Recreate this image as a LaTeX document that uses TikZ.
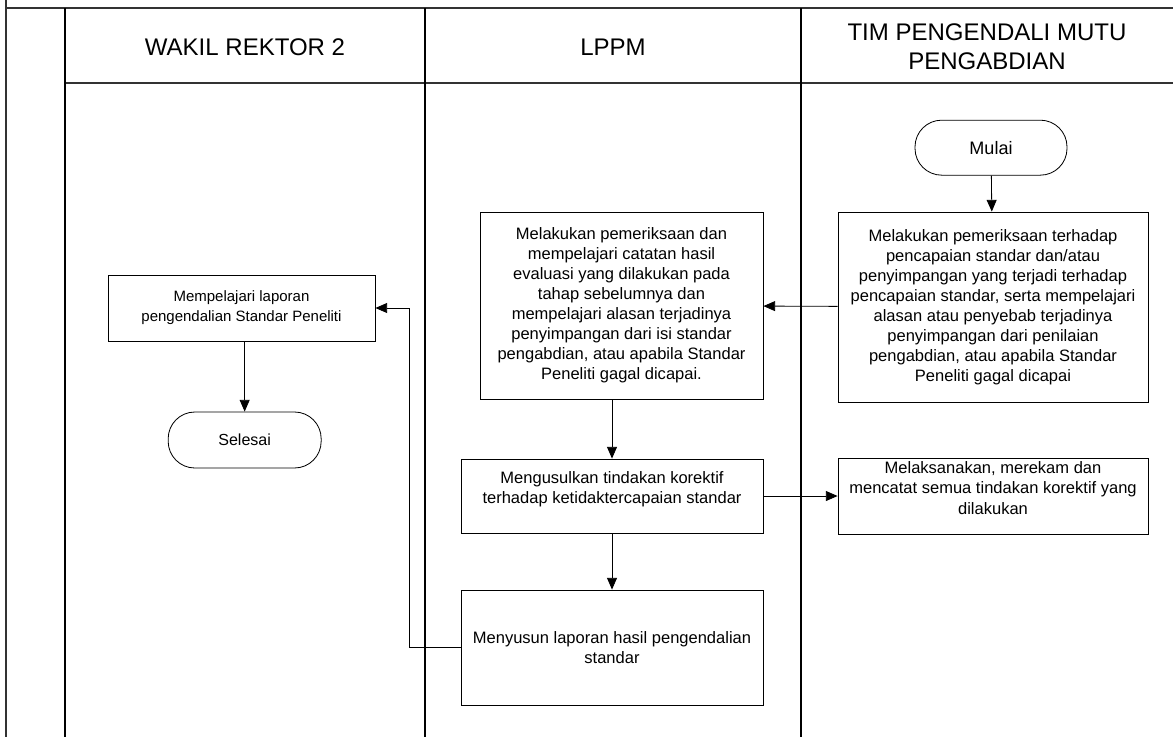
\documentclass[tikz,border=0pt]{standalone}
\usepackage{fontspec}
\setmainfont{Liberation Sans}
\usetikzlibrary{arrows.meta, positioning}
\definecolor{laneline}{RGB}{50, 50, 50}
% extra depth under the last line, lifts the text inside a tall box
\newcommand{\textlift}{\rule[-13.7pt]{0pt}{13.7pt}}

\begin{document}
\begin{tikzpicture}[
    proc/.style={draw, rectangle, align=center, line width=0.7pt, font=\fontsize{14.1}{17.1}\selectfont},
    term/.style={draw, rectangle, rounded corners=0.8cm, align=center, line width=0.7pt, font=\fontsize{14.1}{17.1}\selectfont},
    lanehead/.style={align=center, font=\fontsize{20.5}{24.75}\selectfont},
    arr/.style={-{Triangle[length=10pt, width=8.5pt]}, line width=0.7pt}
]
    \useasboundingbox (0,0) rectangle (35.19,-22.11);

    % Swimlane frame
    \draw[laneline, line width=1.2pt] (0.18,0) -- (0.18,-22.11);
    \draw[laneline, line width=1.4pt] (0.18,-0.24) -- (35.19,-0.24);
    \draw[laneline, line width=1pt] (1.95,-2.49) -- (35.19,-2.49);
    \draw[line width=1.2pt] (1.95,-0.24) -- (1.95,-22.11);
    \draw[line width=1.2pt] (12.75,-0.24) -- (12.75,-22.11);
    \draw[line width=1.2pt] (24.03,-0.24) -- (24.03,-22.11);

    % Lane titles
    \node[lanehead] (wr) at (7.35,-1.41) {WAKIL REKTOR 2};
    \node[lanehead] (lppm) at (18.39,-1.41) {LPPM};
    \node[lanehead] (tpm) at (29.61,-1.41) {TIM PENGENDALI MUTU\\PENGABDIAN};

    % Tim Pengendali Mutu lane
    \node[term, minimum width=4.56cm, minimum height=1.65cm, font=\fontsize{15.4}{17.1}\selectfont] (mulai) at (29.73,-4.43) {Mulai};
    \node[proc, minimum width=9.3cm, minimum height=5.7cm] (periksa) at (29.79,-9.21)
        {Melakukan pemeriksaan terhadap\\pencapaian standar dan/atau\\penyimpangan yang terjadi terhadap\\pencapaian standar, serta mempelajari\\alasan atau penyebab terjadinya\\penyimpangan dari penilaian\\pengabdian, atau apabila Standar\\Peneliti gagal dicapai};
    \node[proc, minimum width=9.3cm, minimum height=2.22cm] (catat) at (29.79,-14.88)
        {Melaksanakan, merekam dan\\mencatat semua tindakan korektif yang\\dilakukan\textlift};

    % LPPM lane
    \node[proc, minimum width=8.49cm, minimum height=5.61cm] (pelajari) at (18.645,-9.165)
        {Melakukan pemeriksaan dan\\mempelajari catatan hasil\\evaluasi yang dilakukan pada\\tahap sebelumnya dan\\mempelajari alasan terjadinya\\penyimpangan dari isi standar\\pengabdian, atau apabila Standar\\Peneliti gagal dicapai.};
    \node[proc, minimum width=9.06cm, minimum height=2.22cm] (usul) at (18.36,-14.88)
        {Mengusulkan tindakan korektif\\terhadap ketidaktercapaian standar\textlift};
    \node[proc, minimum width=9.06cm, minimum height=3.45cm] (susun) at (18.36,-19.425)
        {Menyusun laporan hasil pengendalian\\standar};

    % Wakil Rektor 2 lane
    \node[proc, minimum width=8.01cm, minimum height=1.98cm, font=\fontsize{12.8}{17.1}\selectfont] (laporan) at (7.245,-9.24)
        {Mempelajari laporan\\pengendalian Standar Peneliti};
    \node[term, minimum width=4.59cm, minimum height=1.68cm, font=\fontsize{13.7}{17.1}\selectfont] (selesai) at (7.34,-13.2) {Selesai};

    % Connectors
    \draw[arr] (mulai) -- (periksa);
    \draw[arr] (periksa) -- (pelajari);
    \draw[arr] (pelajari.south -| usul) -- (usul);
    \draw[arr] (usul) -- (catat.west |- usul);
    \draw[arr] (usul) -- (susun);
    \draw[arr] (susun.west) -- ++(-1.53,0) |- (laporan.east);
    \draw[arr] (laporan.south -| selesai) -- (selesai);
\end{tikzpicture}
\end{document}
